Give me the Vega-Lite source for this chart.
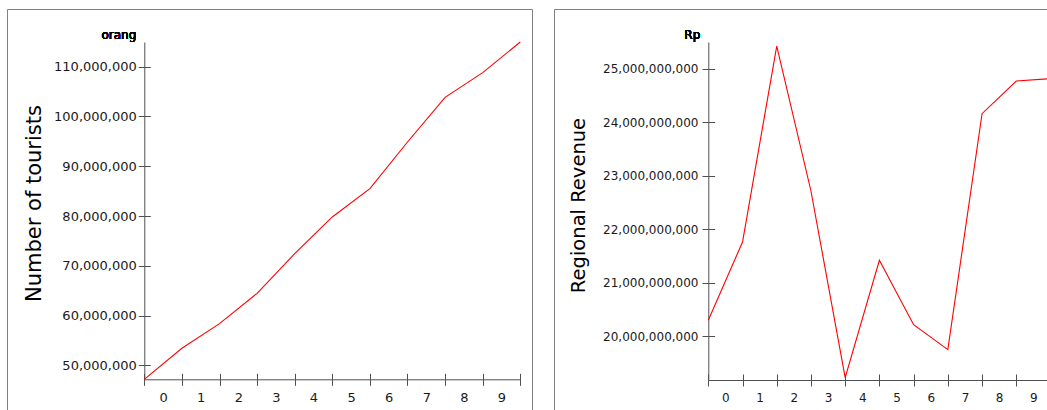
{
  "$schema": "https://vega.github.io/schema/vega-lite/v6.json",
  "padding": {"left": 6, "top": 8, "right": 0, "bottom": 0},
  "spacing": 22,
  "bounds": "flush",
  "config": {
    "view": {"stroke": "#808080", "strokeWidth": 1},
    "font": "DejaVu Sans",
    "axis": {"grid": false, "domainColor": "#505050", "tickColor": "#505050", "labelColor": "#1a1a1a", "titleColor": "#000000", "titleFontWeight": "normal", "labelFont": "DejaVu Sans", "titleFont": "DejaVu Sans"}
  },
  "datasets": {
    "tourists": [
      {"t": 0, "v": 47190000}, {"t": 1, "v": 53420000}, {"t": 2, "v": 58370000},
      {"t": 3, "v": 64470000}, {"t": 4, "v": 72440000}, {"t": 5, "v": 79810000},
      {"t": 6, "v": 85500000}, {"t": 7, "v": 94880000}, {"t": 8, "v": 103850000},
      {"t": 9, "v": 108810000}, {"t": 10, "v": 114970000}
    ],
    "revenue": [
      {"t": 0, "v": 20299000000}, {"t": 1, "v": 21762000000}, {"t": 2, "v": 25423000000},
      {"t": 3, "v": 22715000000}, {"t": 4, "v": 19228000000}, {"t": 5, "v": 21420000000},
      {"t": 6, "v": 20218000000}, {"t": 7, "v": 19751000000}, {"t": 8, "v": 24159000000},
      {"t": 9, "v": 24770000000}, {"t": 10, "v": 24815000000}
    ]
  },
  "hconcat": [
    {
      "width": 525,
      "height": 410,
      "data": {"name": "tourists"},
      "resolve": {"axis": {"x": "independent", "y": "independent"}},
      "layer": [
        {
          "mark": {"type": "line", "color": "#ff0000", "strokeWidth": 1.1},
          "encoding": {
            "x": {
              "field": "t", "type": "quantitative",
              "scale": {"domain": [0, 10], "range": [137.3, 513.3], "nice": false, "zero": false},
              "axis": {"orient": "bottom", "offset": -39.7, "values": [0, 1, 2, 3, 4, 5, 6, 7, 8, 9, 10], "format": "d", "tickSize": 6, "labelOffset": 18.8, "labelExpr": "datum.value < 10 ? datum.label : ''", "labelFlush": false, "labelOverlap": false, "labelPadding": 6, "labelFontSize": 13, "title": null}
            },
            "y": {
              "field": "v", "type": "quantitative",
              "scale": {"domain": [47190000, 114970000], "range": [370.3, 33], "nice": false, "zero": false},
              "axis": {"orient": "left", "offset": -137.3, "values": [50000000, 60000000, 70000000, 80000000, 90000000, 100000000, 110000000], "format": ",d", "tickSize": 6, "labelPadding": 2, "labelFontSize": 13, "labelOverlap": false, "title": "Number of tourists", "titleFontSize": 21, "titleAngle": 270, "titleX": -104.3, "titleY": 194, "titleAlign": "center", "titleBaseline": "alphabetic"}
            }
          }
        },
        {
          "mark": {"type": "text", "text": "orang", "align": "right", "baseline": "alphabetic", "dx": -8, "dy": -3.5, "fontSize": 12, "color": "#000000"},
          "encoding": {
            "x": {"datum": 0, "type": "quantitative", "axis": {"orient": "top", "offset": -370.3, "values": [0, 1, 2, 3, 4, 5, 6, 7, 8, 9, 10], "domain": false, "labels": false, "tickSize": 6, "title": null}},
            "y": {"datum": 114970000, "type": "quantitative", "axis": {"orient": "right", "offset": -387.7, "values": [50000000, 60000000, 70000000, 80000000, 90000000, 100000000, 110000000], "domain": false, "labels": false, "tickSize": 6, "title": null}}
          }
        }
      ]
    },
    {
      "width": 525,
      "height": 410,
      "data": {"name": "revenue"},
      "resolve": {"axis": {"x": "independent", "y": "independent"}},
      "layer": [
        {
          "mark": {"type": "line", "color": "#ff0000", "strokeWidth": 1.1},
          "encoding": {
            "x": {
              "field": "t", "type": "quantitative",
              "scale": {"domain": [0, 10], "range": [154.3, 496.5], "nice": false, "zero": false},
              "axis": {"orient": "bottom", "offset": -39, "values": [0, 1, 2, 3, 4, 5, 6, 7, 8, 9, 10], "format": "d", "tickSize": 6, "labelOffset": 17.1, "labelExpr": "datum.value < 10 ? datum.label : ''", "labelFlush": false, "labelOverlap": false, "labelPadding": 6, "labelFontSize": 12, "title": null}
            },
            "y": {
              "field": "v", "type": "quantitative",
              "scale": {"domain": [19183500000, 25499000000], "range": [371, 33], "nice": false, "zero": false},
              "axis": {"orient": "left", "offset": -154.3, "values": [20000000000, 21000000000, 22000000000, 23000000000, 24000000000, 25000000000], "format": ",d", "tickSize": 6.3, "labelPadding": 4, "labelFontSize": 12, "labelOverlap": false, "title": "Regional Revenue", "titleFontSize": 19.5, "titleAngle": 270, "titleX": -124.3, "titleY": 196, "titleAlign": "center", "titleBaseline": "alphabetic"}
            }
          }
        },
        {
          "mark": {"type": "text", "text": "Rp", "align": "right", "baseline": "alphabetic", "dx": -8, "dy": -3.5, "fontSize": 12, "color": "#000000"},
          "encoding": {
            "x": {"datum": 0, "type": "quantitative", "axis": {"orient": "top", "offset": -371, "values": [0, 1, 2, 3, 4, 5, 6, 7, 8, 9, 10], "domain": false, "labels": false, "tickSize": 6, "title": null}},
            "y": {"datum": 25499000000, "type": "quantitative", "axis": {"orient": "right", "offset": -370.7, "values": [20000000000, 21000000000, 22000000000, 23000000000, 24000000000, 25000000000], "domain": false, "labels": false, "tickSize": 6.3, "title": null}}
          }
        }
      ]
    }
  ]
}
